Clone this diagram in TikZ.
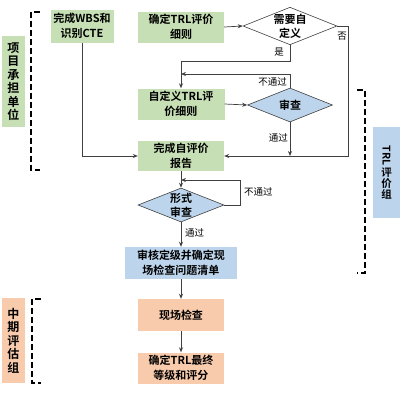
\documentclass[tikz,border=0pt]{standalone}
\usepackage{fontspec}
\usepackage{graphicx}
\setmainfont{Noto Sans CJK SC}[BoldFont={Noto Sans CJK SC Bold}]
\usetikzlibrary{arrows.meta,shapes.geometric}
\definecolor{gfill}{HTML}{C6DFB4}
\definecolor{bfill}{HTML}{BDD5EC}
\definecolor{pfill}{HTML}{F8CBAD}
\definecolor{lgray}{HTML}{404040}
\tikzset{
  x=1pt,y=-1pt,
  box/.style={draw=none,align=center,inner sep=0pt,font=\fontsize{11}{15}\selectfont\bfseries},
  gbox/.style={box,fill=gfill},
  bbox/.style={box,fill=bfill},
  pbox/.style={box,fill=pfill},
  dia/.style={diamond,draw=lgray,line width=0.6pt,align=center,inner sep=0pt,aspect=2.5,
    font=\fontsize{11}{14}\selectfont\bfseries},
  arr/.style={draw=lgray,line width=0.7pt,-{Stealth[length=5pt,width=4pt]}},
  ln/.style={draw=lgray,line width=0.7pt},
  lab/.style={font=\fontsize{9.5}{11}\selectfont,inner sep=0pt,text=black},
  side/.style={box,font=\fontsize{12}{13.5}\selectfont\bfseries},
  brk/.style={draw=black,line width=1.2pt,dash pattern=on 6pt off 3pt}
}
\begin{document}
\begin{tikzpicture}
\useasboundingbox (0,0) rectangle (400,400);
\fill[white] (0,0) rectangle (400,400);
% nodes
\node[gbox,minimum width=63pt,minimum height=33pt] (wbs) at (82,26) {完成WBS和\\识别CTE};
\node[gbox,minimum width=86pt,minimum height=31pt] (trl) at (181,27) {确定TRL评价\\细则};
\node[dia,fill=white,minimum width=85pt,minimum height=34pt] (need) at (290,26) {需要自\\定义};
\node[gbox,minimum width=87pt,minimum height=31pt] (custom) at (181,104) {自定义TRL评\\价细则};
\node[dia,fill=bfill,minimum width=85pt,minimum height=34pt] (review) at (290,105) {审查};
\node[gbox,minimum width=86pt,minimum height=30pt] (report) at (181,156) {完成自评价\\报告};
\node[dia,fill=bfill,minimum width=86pt,minimum height=34pt] (form) at (181,205) {形式\\审查};
\node[bbox,minimum width=112pt,minimum height=32pt] (audit) at (181,263) {审核定级并确定现\\场检查问题清单};
\node[pbox,minimum width=86pt,minimum height=32pt] (site) at (181,315) {现场检查};
\node[pbox,minimum width=86pt,minimum height=31pt] (final) at (181,368) {确定TRL最终\\等级和评分};
% side labels
\node[side,fill=gfill,minimum width=23pt,minimum height=91pt] (orgA) at (13.5,81.5) {项\\目\\承\\担\\单\\位};
\node[side,fill=pfill,minimum width=23pt,minimum height=85pt] (orgB) at (13.5,340.5) {中\\期\\评\\估\\组};
\node[box,fill=bfill,minimum width=27pt,minimum height=91pt,font=\fontsize{10.5}{11}\selectfont\bfseries] (orgC) at (386.5,172.5) {\rotatebox{-90}{TRL}\\[1pt]评\\价\\组};
% helper coordinates
\coordinate (m1) at (181,74);
\coordinate (m2) at (290,156);
\coordinate (m3) at (181,180);
\coordinate (r1) at (348,26);
\coordinate (f1) at (240,205);
% connectors
\draw[arr] (wbs.south) |- (report.west);
\draw[arr] (trl.east) -- (need.west);
\draw[arr] (need.south) -- ++(0,16) -| (custom.north);
\draw[arr] (need.east) -- (r1) |- (report.east);
\draw[arr] (custom.east) -- (review.west);
\draw[arr] (review.north) |- (m1);
\draw[arr] (review.south) -- (m2);
\draw[arr] (report.south) -- (form.north);
\draw[arr] (form.east) -- (f1) |- (m3);
\draw[arr] (form.south) -- (audit.north);
\draw[arr] (audit.south) -- (site.north);
\draw[arr] (site.south) -- (final.north);
% labels
\node[lab,anchor=east] (lyes) at (284,52) {是};
\node[lab] (lno) at (342,36) {否};
\node[lab,anchor=east] (lnp1) at (287,82) {不通过};
\node[lab,anchor=east] (lp1) at (288,138) {通过};
\node[lab,anchor=west] (lnp2) at (244,192) {不通过};
\node[lab,anchor=west] (lp2) at (185,233) {通过};
% dashed brackets
\draw[brk] (40,12) -- (31,12) -- (31,170) -- (40,170);
\draw[brk] (41,299) -- (32,299) -- (32,383) -- (41,383);
\draw[brk] (357,90) -- (365,90) -- (365,273) -- (357,273);
\end{tikzpicture}
\end{document}
